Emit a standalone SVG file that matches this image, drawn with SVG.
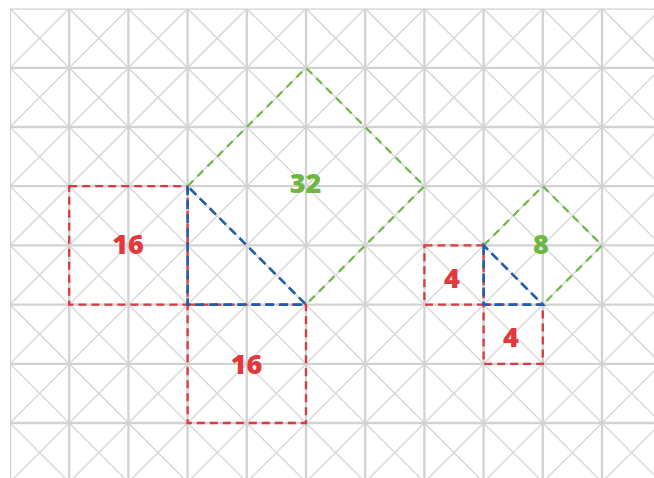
<svg xmlns="http://www.w3.org/2000/svg" width="654" height="478" viewBox="0 0 654 478">
<style>
.grid{stroke:#d2d2d2;stroke-width:2.3;fill:none}
.diag{stroke:#dadada;stroke-width:1.5;fill:none}
.red{stroke:#dd3a3f;stroke-width:2.3;fill:none;stroke-dasharray:8 5}
.blue{stroke:#1f5ea6;stroke-width:2.6;fill:none;stroke-dasharray:9 5}
.green{stroke:#72b84b;stroke-width:2.3;fill:none;stroke-dasharray:8 6}
text{font-family:"Open Sans","Liberation Sans",sans-serif;font-weight:800;font-size:27px;text-anchor:middle}
.tr{fill:#e2393d}
.tg{fill:#6db742}
</style>
<defs>
<clipPath id="area"><rect x="10" y="8.6" width="644" height="470"/></clipPath>
</defs>
<rect width="654" height="478" fill="#ffffff"/>
<g id="grid" clip-path="url(#area)">
<path class="diag" d="M-463.6 8.6l700 700M-404.4 8.6l700 700M-345.2 8.6l700 700M-286 8.6l700 700M-226.8 8.6l700 700M-167.6 8.6l700 700M-108.4 8.6l700 700M-49.2 8.6l700 700M10 8.6l700 700M69.2 8.6l700 700M128.4 8.6l700 700M187.6 8.6l700 700M246.8 8.6l700 700M306 8.6l700 700M365.2 8.6l700 700M424.4 8.6l700 700M483.6 8.6l700 700M542.8 8.6l700 700M602 8.6l700 700"/>
<path class="diag" d="M69.2 8.6l-700 700M128.4 8.6l-700 700M187.6 8.6l-700 700M246.8 8.6l-700 700M306 8.6l-700 700M365.2 8.6l-700 700M424.4 8.6l-700 700M483.6 8.6l-700 700M542.8 8.6l-700 700M602 8.6l-700 700M661.2 8.6l-700 700M720.4 8.6l-700 700M779.6 8.6l-700 700M838.8 8.6l-700 700M898 8.6l-700 700M957.2 8.6l-700 700M1016.4 8.6l-700 700M1075.6 8.6l-700 700M1134.8 8.6l-700 700"/>
<path class="grid" d="M10 8.6V478M69.2 8.6V478M128.4 8.6V478M187.6 8.6V478M246.8 8.6V478M306 8.6V478M365.2 8.6V478M424.4 8.6V478M483.6 8.6V478M542.8 8.6V478M602 8.6V478M10 8.6H654M10 67.8H654M10 127H654M10 186.2H654M10 245.4H654M10 304.6H654M10 363.8H654M10 423H654"/>
</g>
<g id="large">
<g id="sq-left"><rect class="red" x="69.2" y="186.2" width="118.4" height="118.4"/><text class="tr" x="128" y="254">16</text></g>
<g id="sq-bottom"><rect class="red" x="187.6" y="304.6" width="118.4" height="118.4"/><text class="tr" x="246.5" y="374">16</text></g>
<g id="sq-diag"><polyline class="green" points="187.6,186.2 306,67.8 424.4,186.2 306,304.6"/><text class="tg" x="305.5" y="193">32</text></g>
<g id="tri-large"><polygon class="blue" points="187.6,186.2 187.6,304.6 306,304.6"/></g>
</g>
<g id="small">
<g id="sq-s-left"><rect class="red" x="424.4" y="245.4" width="59.2" height="59.2"/><text class="tr" x="452" y="288">4</text></g>
<g id="sq-s-bottom"><rect class="red" x="483.6" y="304.6" width="59.2" height="59.2"/><text class="tr" x="511" y="347">4</text></g>
<g id="sq-s-diag"><polyline class="green" points="483.6,245.4 542.8,186.2 602,245.4 542.8,304.6"/><text class="tg" x="541" y="254">8</text></g>
<g id="tri-small"><polygon class="blue" points="483.6,245.4 483.6,304.6 542.8,304.6"/></g>
</g>
</svg>
